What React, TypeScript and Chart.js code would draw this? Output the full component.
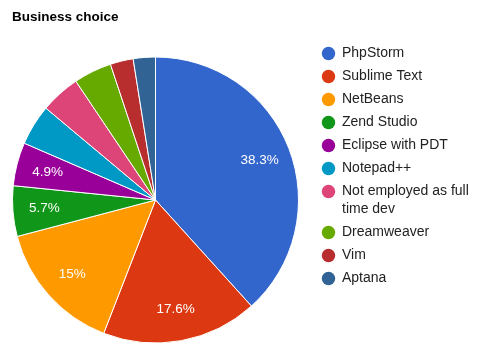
import React, { useEffect, useRef } from "react";
import { Chart, registerables } from "chart.js";

Chart.register(...registerables);

const titleText = "Business choice";
const categories = [
  "PhpStorm",
  "Sublime Text",
  "NetBeans",
  "Zend Studio",
  "Eclipse with PDT",
  "Notepad++",
  "Not employed as full time dev",
  "Dreamweaver",
  "Vim",
  "Aptana",
];
const shares = [38.3, 17.6, 15, 5.7, 4.9, 4.6, 4.5, 4.3, 2.6, 2.5];
const sliceLabels = ["38.3%", "17.6%", "15%", "5.7%", "4.9%", "", "", "", "", ""];
const colors = [
  "#3366cc",
  "#dc3912",
  "#ff9900",
  "#109618",
  "#990099",
  "#0099c6",
  "#dd4477",
  "#66aa00",
  "#b82e2e",
  "#316395",
];

const FONT = "Arial, 'Liberation Sans', sans-serif";

const overlayPlugin = {
  id: "overlay",
  afterDraw(chart: any) {
    const ctx = chart.ctx as CanvasRenderingContext2D;
    ctx.save();
    // title
    ctx.fillStyle = "#000000";
    ctx.font = `bold 13.5px ${FONT}`;
    ctx.textAlign = "left";
    ctx.textBaseline = "alphabetic";
    ctx.fillText(titleText, 12, 21);

    // slice labels
    const meta = chart.getDatasetMeta(0);
    ctx.font = `13.5px ${FONT}`;
    ctx.fillStyle = "#ffffff";
    ctx.textAlign = "center";
    ctx.textBaseline = "middle";
    meta.data.forEach((arc: any, i: number) => {
      const txt = sliceLabels[i];
      if (!txt) return;
      const p = arc.getProps(["x", "y", "startAngle", "endAngle", "outerRadius"], true);
      const mid = (p.startAngle + p.endAngle) / 2;
      const r = p.outerRadius * 0.78;
      ctx.fillText(txt, p.x + Math.cos(mid) * r, p.y + Math.sin(mid) * r);
    });

    // legend
    const cx = 328.5;
    const tx = 342;
    const maxW = 481 - tx - 8;
    let y = 53.5;
    ctx.font = `14px ${FONT}`;
    ctx.textAlign = "left";
    ctx.textBaseline = "middle";
    categories.forEach((name, i) => {
      // wrap
      const words = name.split(" ");
      const lines: string[] = [];
      let cur = "";
      words.forEach((w) => {
        const test = cur ? cur + " " + w : w;
        if (ctx.measureText(test).width > maxW && cur) {
          lines.push(cur);
          cur = w;
        } else cur = test;
      });
      if (cur) lines.push(cur);
      ctx.fillStyle = colors[i];
      ctx.beginPath();
      ctx.arc(cx, y, 6.7, 0, Math.PI * 2);
      ctx.fill();
      ctx.fillStyle = "#222222";
      lines.forEach((l, k) => ctx.fillText(l, tx, y + k * 18));
      y += 23 + (lines.length - 1) * 18;
    });
    ctx.restore();
  },
};

export default function App() {
  const ref = useRef<HTMLCanvasElement>(null);
  useEffect(() => {
    document.body.style.margin = "0";
    const chart = new Chart(ref.current!, {
      type: "pie",
      data: {
        labels: categories,
        datasets: [
          {
            data: shares,
            backgroundColor: colors,
            borderColor: "#ffffff",
            borderWidth: 1,
          },
        ],
      },
      options: {
        animation: false,
        responsive: false,
        layout: { padding: { left: 12, right: 182, top: 56, bottom: 10 } },
        plugins: {
          legend: { display: false },
          title: { display: false },
          tooltip: { enabled: false },
        },
      },
      plugins: [overlayPlugin],
    });
    return () => chart.destroy();
  }, []);
  return (
    <div style={{ width: 481, height: 354, background: "#fff" }}>
      <canvas ref={ref} width={481} height={354} style={{ display: "block" }} />
    </div>
  );
}
